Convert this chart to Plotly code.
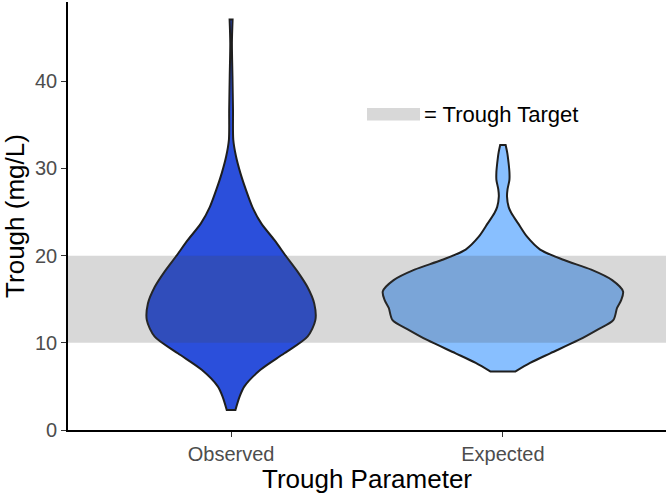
import plotly.graph_objects as go

# trough levels (mg/L) and violin half-widths (x-axis units)
categories = ["Observed", "Expected"]

obs_trough = [2.3, 3.8, 5.0, 6.9, 8.8, 10.7, 12.6, 14.5, 16.4, 18.2, 19.9, 21.8,
              23.7, 25.6, 27.6, 29.5, 31.4, 33.3, 36.7, 40.6, 44.4, 47.1]
obs_halfwidth = [0.016, 0.031, 0.049, 0.108, 0.196, 0.281, 0.310, 0.306, 0.281, 0.244, 0.203, 0.159,
                 0.111, 0.078, 0.054, 0.034, 0.018, 0.008, 0.007, 0.005, 0.003, 0.0055]

exp_trough = [6.7, 7.7, 8.8, 10.3, 11.5, 12.6, 14.0, 14.9, 15.9, 17.2, 18.4, 19.5,
              20.7, 22.2, 23.7, 24.9, 25.6, 26.8, 27.6, 28.7, 29.6, 30.6, 31.8, 32.7]
exp_halfwidth = [0.045, 0.100, 0.174, 0.277, 0.347, 0.406, 0.420, 0.435, 0.442, 0.402, 0.325, 0.225,
                 0.137, 0.088, 0.056, 0.031, 0.021, 0.015, 0.017, 0.024, 0.024, 0.021, 0.016, 0.010]

target_low, target_high = 10, 20
fills = ["#2b4fdb", "#88bfff"]


def violin_outline(center, levels, halfwidth):
    # trimmed violin: repeat the end points so the flat ends keep sharp corners
    lv = [levels[0]] + list(levels) + [levels[-1]]
    hw = [halfwidth[0]] + list(halfwidth) + [halfwidth[-1]]
    xs = [center + w for w in hw] + [center - w for w in reversed(hw)]
    ys = lv + list(reversed(lv))
    return xs + xs[:2], ys + ys[:2]


fig = go.Figure()
for i, (lv, hw) in enumerate([(obs_trough, obs_halfwidth), (exp_trough, exp_halfwidth)]):
    x, y = violin_outline(i + 1, lv, hw)
    fig.add_trace(go.Scatter(
        x=x, y=y, mode="lines", fill="toself", fillcolor=fills[i],
        line=dict(color="#1e1e1e", width=2, shape="spline", smoothing=0.8),
        name=categories[i], showlegend=False, hoverinfo="skip",
    ))

band = "rgba(70,70,70,0.21)"
fig.add_shape(type="rect", xref="paper", x0=0, x1=1, y0=target_low, y1=target_high,
              fillcolor=band, line_width=0, layer="above")
fig.add_shape(type="rect", x0=1.5, x1=1.695, y0=35.5, y1=36.95,
              fillcolor=band, line_width=0, layer="above")
fig.add_annotation(x=1.703, y=36.2, text="= Trough Target", showarrow=False,
                   xanchor="left", yanchor="middle", font=dict(size=22, color="black"))

fig.update_layout(
    width=666, height=494,
    margin=dict(l=68, r=0, t=2, b=64),
    plot_bgcolor="white", paper_bgcolor="white",
    font=dict(family="Liberation Sans, Arial, sans-serif"),
    xaxis=dict(
        range=[0.4, 2.6], tickvals=[1, 2], ticktext=categories,
        showgrid=False, zeroline=False, showline=True, linecolor="black", linewidth=1.6,
        ticks="outside", ticklen=5, tickcolor="#333333", tickwidth=1.4,
        tickfont=dict(size=20, color="#4d4d4d"),
        title=dict(text="Trough Parameter", font=dict(size=26, color="black"), standoff=2),
    ),
    yaxis=dict(
        range=[0, 49.1], tickvals=[0, 10, 20, 30, 40],
        showgrid=False, zeroline=False, showline=True, linecolor="black", linewidth=1.6,
        ticks="outside", ticklen=5, tickcolor="#333333", tickwidth=1.4,
        tickfont=dict(size=20, color="#4d4d4d"),
        title=dict(text="Trough (mg/L)", font=dict(size=26, color="black"), standoff=6),
    ),
)

# the page body has an 8px default margin; drop it so the figure sits at the window corner
fig.write_html("out.html", config={"displayModeBar": False},
               post_script="document.body.style.margin='0';")
